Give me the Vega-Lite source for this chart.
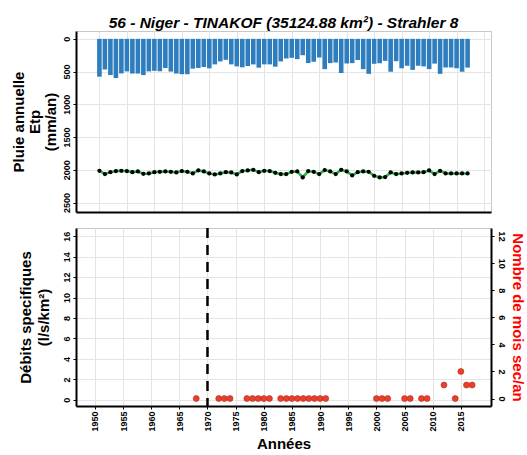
{
  "$schema": "https://vega.github.io/schema/vega-lite/v6.json",
  "padding": {"left": 10, "top": 15, "right": 0, "bottom": 0},
  "spacing": 12,
  "config": {
    "font": "Liberation Sans",
    "view": {"stroke": "#c8c8c8", "strokeWidth": 1},
    "axis": {
      "labelFont": "Liberation Sans", "labelFontWeight": "bold", "labelFontSize": 9, "labelColor": "black",
      "titleFont": "Liberation Sans", "titleFontWeight": "bold", "titleFontSize": 15, "titleColor": "black",
      "domainColor": "black", "domainWidth": 2, "tickColor": "black", "tickSize": 3, "tickWidth": 1,
      "gridColor": "#e4e4e4", "gridWidth": 1, "labelPadding": 2, "labelOverlap": false, "labelFlush": false
    }
  },
  "datasets": {
    "annuel": [
      {"annee": 1950, "pluie": 578, "etp": 2015}, {"annee": 1951, "pluie": 468, "etp": 2066},
      {"annee": 1952, "pluie": 553, "etp": 2036}, {"annee": 1953, "pluie": 598, "etp": 2020},
      {"annee": 1954, "pluie": 528, "etp": 2015}, {"annee": 1955, "pluie": 497, "etp": 2020},
      {"annee": 1956, "pluie": 530, "etp": 2036}, {"annee": 1957, "pluie": 530, "etp": 2026},
      {"annee": 1958, "pluie": 553, "etp": 2061}, {"annee": 1959, "pluie": 497, "etp": 2056},
      {"annee": 1960, "pluie": 488, "etp": 2036}, {"annee": 1961, "pluie": 495, "etp": 2031},
      {"annee": 1962, "pluie": 445, "etp": 2026}, {"annee": 1963, "pluie": 500, "etp": 2031},
      {"annee": 1964, "pluie": 530, "etp": 2041}, {"annee": 1965, "pluie": 540, "etp": 2020},
      {"annee": 1966, "pluie": 540, "etp": 2031}, {"annee": 1967, "pluie": 455, "etp": 2056},
      {"annee": 1968, "pluie": 445, "etp": 2010}, {"annee": 1969, "pluie": 430, "etp": 2026},
      {"annee": 1970, "pluie": 450, "etp": 2056}, {"annee": 1971, "pluie": 390, "etp": 2071},
      {"annee": 1972, "pluie": 345, "etp": 2056}, {"annee": 1973, "pluie": 320, "etp": 2036},
      {"annee": 1974, "pluie": 390, "etp": 2041}, {"annee": 1975, "pluie": 420, "etp": 2071},
      {"annee": 1976, "pluie": 435, "etp": 2020}, {"annee": 1977, "pluie": 415, "etp": 2010},
      {"annee": 1978, "pluie": 390, "etp": 2000}, {"annee": 1979, "pluie": 440, "etp": 2036},
      {"annee": 1980, "pluie": 390, "etp": 2015}, {"annee": 1981, "pluie": 390, "etp": 2020},
      {"annee": 1982, "pluie": 425, "etp": 2046}, {"annee": 1983, "pluie": 345, "etp": 2066},
      {"annee": 1984, "pluie": 300, "etp": 2066}, {"annee": 1985, "pluie": 290, "etp": 2031},
      {"annee": 1986, "pluie": 310, "etp": 2026}, {"annee": 1987, "pluie": 250, "etp": 2117},
      {"annee": 1988, "pluie": 370, "etp": 2020}, {"annee": 1989, "pluie": 350, "etp": 2031},
      {"annee": 1990, "pluie": 285, "etp": 2066}, {"annee": 1991, "pluie": 462, "etp": 2005},
      {"annee": 1992, "pluie": 371, "etp": 2026}, {"annee": 1993, "pluie": 361, "etp": 2066},
      {"annee": 1994, "pluie": 522, "etp": 2000}, {"annee": 1995, "pluie": 376, "etp": 2026},
      {"annee": 1996, "pluie": 371, "etp": 2087}, {"annee": 1997, "pluie": 323, "etp": 2036},
      {"annee": 1998, "pluie": 462, "etp": 2026}, {"annee": 1999, "pluie": 535, "etp": 2031},
      {"annee": 2000, "pluie": 381, "etp": 2092}, {"annee": 2001, "pluie": 373, "etp": 2117},
      {"annee": 2002, "pluie": 336, "etp": 2112}, {"annee": 2003, "pluie": 502, "etp": 2041},
      {"annee": 2004, "pluie": 341, "etp": 2066}, {"annee": 2005, "pluie": 450, "etp": 2056},
      {"annee": 2006, "pluie": 411, "etp": 2046}, {"annee": 2007, "pluie": 474, "etp": 2041},
      {"annee": 2008, "pluie": 411, "etp": 2041}, {"annee": 2009, "pluie": 421, "etp": 2036},
      {"annee": 2010, "pluie": 462, "etp": 2010}, {"annee": 2011, "pluie": 378, "etp": 2066},
      {"annee": 2012, "pluie": 535, "etp": 2015}, {"annee": 2013, "pluie": 437, "etp": 2056},
      {"annee": 2014, "pluie": 437, "etp": 2056}, {"annee": 2015, "pluie": 449, "etp": 2056},
      {"annee": 2016, "pluie": 502, "etp": 2056}, {"annee": 2017, "pluie": 439, "etp": 2056}
    ],
    "moisSecs": [
      {"annee": 1968, "nb": 0}, {"annee": 1972, "nb": 0}, {"annee": 1973, "nb": 0}, {"annee": 1974, "nb": 0},
      {"annee": 1977, "nb": 0}, {"annee": 1978, "nb": 0}, {"annee": 1979, "nb": 0}, {"annee": 1980, "nb": 0},
      {"annee": 1981, "nb": 0}, {"annee": 1983, "nb": 0}, {"annee": 1984, "nb": 0}, {"annee": 1985, "nb": 0},
      {"annee": 1986, "nb": 0}, {"annee": 1987, "nb": 0}, {"annee": 1988, "nb": 0}, {"annee": 1989, "nb": 0},
      {"annee": 1990, "nb": 0}, {"annee": 1991, "nb": 0}, {"annee": 2000, "nb": 0}, {"annee": 2001, "nb": 0},
      {"annee": 2002, "nb": 0}, {"annee": 2005, "nb": 0}, {"annee": 2006, "nb": 0}, {"annee": 2008, "nb": 0},
      {"annee": 2009, "nb": 0}, {"annee": 2012, "nb": 1}, {"annee": 2014, "nb": 0}, {"annee": 2015, "nb": 2},
      {"annee": 2016, "nb": 1}, {"annee": 2017, "nb": 1}
    ],
    "rupture": [{"annee": 1970}],
    "debits": []
  },
  "vconcat": [
    {
      "title": {
        "text": "56 - Niger - TINAKOF (35124.88 km²) - Strahler 8",
        "fontSize": 15.5, "fontWeight": "bold", "fontStyle": "italic", "font": "Liberation Sans",
        "anchor": "middle", "frame": "group", "offset": 0, "color": "black"
      },
      "width": 415,
      "height": 181,
      "data": {"name": "annuel"},
      "layer": [
        {
          "mark": {"type": "bar", "color": "#2E7EBF", "width": 4.6},
          "encoding": {
            "x": {
              "field": "annee", "type": "quantitative",
              "scale": {"domain": [1946.65, 2020.35], "nice": false, "zero": false},
              "axis": {
                "orient": "bottom", "title": null, "labels": false, "ticks": false, "domain": true,
                "values": [1950, 1955, 1960, 1965, 1970, 1975, 1980, 1985, 1990, 1995, 2000, 2005, 2010, 2015, 2020]
              }
            },
            "y": {
              "field": "pluie", "type": "quantitative",
              "scale": {"domain": [-120, 2645], "reverse": true, "nice": false},
              "axis": {
                "orient": "left",
                "title": ["Pluie annuelle", "Etp", "(mm/an)"], "titleLineHeight": 16, "titlePadding": 4,
                "values": [0, 500, 1000, 1500, 2000, 2500], "format": "d",
                "labelAngle": 270, "labelAlign": "center", "labelBaseline": "bottom"
              }
            }
          }
        },
        {
          "mark": {"type": "line", "color": "#2DB34A", "strokeWidth": 2.6},
          "encoding": {
            "x": {
              "field": "annee", "type": "quantitative",
              "axis": {
                "orient": "bottom", "title": null, "labels": false, "ticks": false, "domain": false,
                "gridWidth": 0.5,
                "values": [1947.5, 1952.5, 1957.5, 1962.5, 1967.5, 1972.5, 1977.5, 1982.5, 1987.5, 1992.5, 1997.5, 2002.5, 2007.5, 2012.5, 2017.5]
              }
            },
            "y": {
              "field": "etp", "type": "quantitative",
              "axis": {
                "orient": "left", "title": null, "labels": false, "ticks": false, "domain": false,
                "gridWidth": 0.5,
                "values": [250, 750, 1250, 1750, 2250]
              }
            }
          }
        },
        {
          "mark": {"type": "point", "filled": true, "color": "black", "size": 18, "opacity": 1},
          "encoding": {
            "x": {"field": "annee", "type": "quantitative", "axis": null},
            "y": {"field": "etp", "type": "quantitative", "axis": null}
          }
        }
      ],
      "resolve": {"axis": {"x": "independent", "y": "independent"}}
    },
    {
      "width": 415,
      "height": 178,
      "layer": [
        {
          "data": {"name": "debits"},
          "mark": {"type": "point"},
          "encoding": {
            "x": {
              "field": "annee", "type": "quantitative",
              "scale": {"domain": [1946.65, 2020.35], "nice": false, "zero": false},
              "axis": {
                "orient": "bottom", "title": "Années", "titlePadding": 5, "format": "d",
                "values": [1950, 1955, 1960, 1965, 1970, 1975, 1980, 1985, 1990, 1995, 2000, 2005, 2010, 2015],
                "labelAngle": 270, "labelAlign": "right", "labelBaseline": "middle"
              }
            },
            "y": {
              "field": "debit", "type": "quantitative",
              "scale": {"domain": [-0.6, 16.8], "nice": false, "zero": false},
              "axis": {
                "orient": "left",
                "title": ["Débits specifiques", "(l/s/km²)"], "titleLineHeight": 18, "titlePadding": 11,
                "values": [0, 2, 4, 6, 8, 10, 12, 14, 16],
                "labelAngle": 270, "labelAlign": "center", "labelBaseline": "bottom"
              }
            }
          }
        },
        {
          "data": {"name": "debits"},
          "mark": {"type": "point"},
          "encoding": {
            "x": {
              "field": "annee", "type": "quantitative",
              "axis": {
                "orient": "bottom", "title": null, "labels": false, "ticks": false, "domain": false,
                "gridWidth": 0.5,
                "values": [1947.5, 1952.5, 1957.5, 1962.5, 1967.5, 1972.5, 1977.5, 1982.5, 1987.5, 1992.5, 1997.5, 2002.5, 2007.5, 2012.5, 2017.5, 2020]
              }
            },
            "y": {
              "field": "debit", "type": "quantitative",
              "scale": {"domain": [-0.6, 16.8], "nice": false, "zero": false},
              "axis": {
                "orient": "left", "title": null, "labels": false, "ticks": false, "domain": false,
                "gridWidth": 0.5,
                "values": [1, 3, 5, 7, 9, 11, 13, 15]
              }
            }
          }
        },
        {
          "data": {"name": "rupture"},
          "mark": {"type": "rule", "color": "black", "strokeWidth": 2.5, "strokeDash": [10, 7]},
          "encoding": {
            "x": {"field": "annee", "type": "quantitative", "axis": null}
          }
        },
        {
          "data": {"name": "moisSecs"},
          "mark": {"type": "circle", "color": "#E8402A", "size": 36, "opacity": 1, "stroke": "#B5281A", "strokeWidth": 0.6},
          "encoding": {
            "x": {"field": "annee", "type": "quantitative", "axis": null},
            "y": {
              "field": "nb", "type": "quantitative",
              "scale": {"domain": [-0.55, 12.6], "nice": false, "zero": false},
              "axis": {
                "orient": "right", "grid": false,
                "title": "Nombre de mois sec/an", "titleColor": "#FF0000", "titlePadding": 4,
                "values": [0, 2, 4, 6, 8, 10, 12],
                "labelAngle": 90, "labelAlign": "center", "labelBaseline": "bottom"
              }
            }
          }
        }
      ],
      "resolve": {"scale": {"y": "independent"}, "axis": {"x": "independent", "y": "independent"}}
    }
  ]
}
